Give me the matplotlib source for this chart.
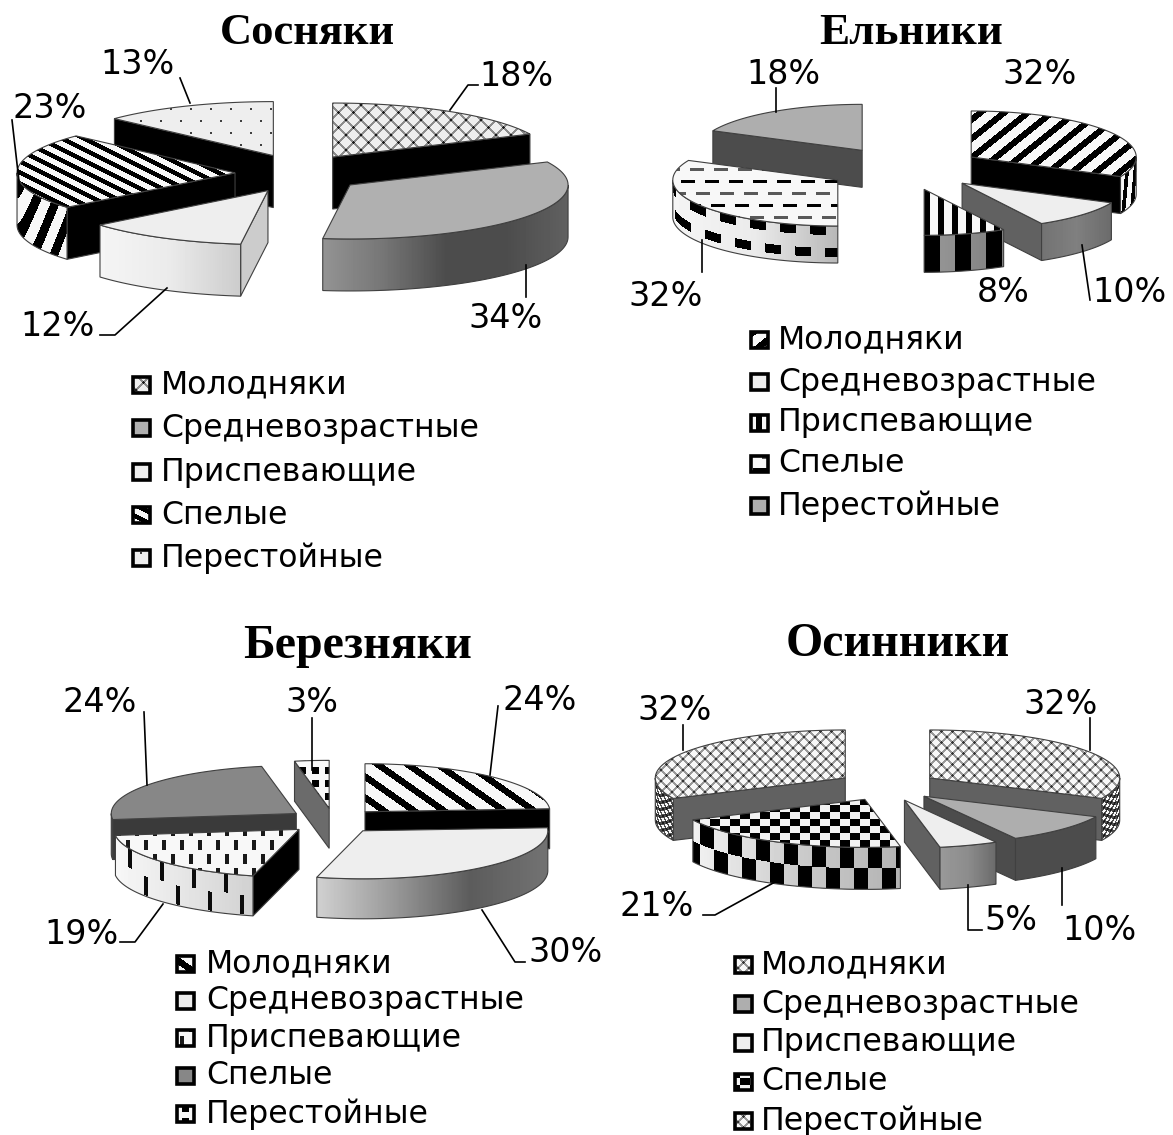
#!/usr/bin/env python3
# -*- coding: utf-8 -*-
import numpy as np
import matplotlib
matplotlib.use("Agg")
import matplotlib.pyplot as plt
from matplotlib.patches import Polygon

W, H = 1173, 1135

categories = ["Молодняки", "Средневозрастные", "Приспевающие", "Спелые", "Перестойные"]

sosnyaki = [18, 34, 12, 23, 13]
elniki = [32, 10, 8, 32, 18]
bereznyaki = [24, 30, 19, 24, 3]
osinniki = [32, 10, 5, 21, 32]


# --- fill patterns, grey level from pixel position ---
def flat(v):
    return lambda X, Y: np.full(X.shape, float(v))


def ramp(*stops):
    def f(X, Y):
        u = (X - X.min()) / max(X.max() - X.min(), 1)
        return np.interp(u, np.linspace(0, 1, len(stops)), stops)
    return f


def over(base, mask, ink=0.0):
    def f(X, Y):
        g = base(X, Y).copy()
        g[mask(X, Y)] = ink
        return g
    return f


def stripes(base, period, width, sx, sy, ink=0.0, phase=0):
    return over(base, lambda X, Y: ((sx * X + sy * Y + phase) % period) < width, ink)


def dots(base, px, py, wx, wy, ink=0.0, shift=True):
    def mask(X, Y):
        row = np.floor(Y / py)
        off = (row % 2) * px / 2 if shift else 0
        return ((X + off) % px < wx) & (Y % py < wy)
    return over(base, mask, ink)


def lattice(base, period, width, ink, knot=None):
    def f(X, Y):
        g = base(X, Y).copy()
        a = ((X + Y) % period) < width
        b = ((X - Y) % period) < width
        g[a | b] = ink
        if knot is not None:
            g[a & b] = knot
        return g
    return f


def checker(base, px, py):
    return over(base, lambda X, Y: (np.floor(X / px) + np.floor(Y / py)) % 2 == 0)


# dashed rows for the Спелые slice of Ельники
def dash_rows(base):
    def f(X, Y):
        g = base(X, Y).copy()
        rows = np.floor(Y / 12)
        on = ((X + rows * 9) % 24 < 14) & (Y % 12 < 3)
        g[on & (rows % 2 == 0)] = 0.35
        g[on & (rows % 2 == 1)] = 0.0
        return g
    return f


white = flat(0.97)
light = flat(0.93)
black = flat(0.0)

# one entry per slice: top, outer wall, cut face
sosn_style = [
    (lattice(light, 15, 3, 0.55, 0.1), black, black),
    (flat(0.69), ramp(0.58, 0.46, 0.30, 0.30, 0.38), flat(0.4)),
    (light, ramp(0.96, 0.92, 0.80), flat(0.8)),
    (stripes(white, 11, 5, 0.5, -1), stripes(white, 17, 8, 1, 0.35), black),
    (dots(light, 20, 12, 2, 2, 0.25), black, black),
]
eln_style = [
    (stripes(white, 19, 8, 0.8, 1), stripes(white, 9, 4, 1, 0.1), black),
    (light, ramp(0.45, 0.5, 0.42), flat(0.38)),
    (stripes(white, 14, 6, 1, 0), stripes(ramp(0.6, 0.5), 31, 16, 1, 0, phase=6), black),
    (dash_rows(white), dots(ramp(0.96, 0.92, 0.72), 30, 22, 16, 9, 0.0), flat(0.5)),
    (flat(0.68), flat(0.3), flat(0.3)),
]
ber_style = [
    (stripes(white, 21, 8, 0.7, -1), black, black),
    (light, ramp(0.82, 0.6, 0.36, 0.45), flat(0.4)),
    (dots(white, 18, 14, 4, 10, 0.1), dots(ramp(0.97, 0.9, 0.82), 32, 20, 4, 19, 0.05), black),
    (flat(0.53), flat(0.3), flat(0.23)),
    (dots(white, 13, 13, 7, 7, 0.0, shift=False), flat(0.4), flat(0.42)),
]
dense = lattice(white, 11, 3, 0.6, 0.2)
dense_wall = lattice(white, 7, 3, 0.3, 0.1)
osin_style = [
    (dense, dense_wall, flat(0.38)),
    (flat(0.68), flat(0.3), flat(0.3)),
    (light, ramp(0.6, 0.55, 0.42), flat(0.38)),
    (checker(flat(0.95), 10, 7), checker(ramp(0.95, 0.8, 0.7), 14, 21), black),
    (dense, dense_wall, flat(0.38)),
]

# layout of each pie: centre, explosion, radii, wall height (pixels)
pies = [
    dict(name="Сосняки", values=sosnyaki, style=sosn_style, cx=298.6, cy=173.5, ex=63.6, ey=19.5,
         rx=218, ry=54, h=52, title=(307, 33), title_size=32,
         labels=[(516, 77), (506, 318), (58, 327), (50, 109), (137, 65)],
         legend=(133, 161, [385, 428, 472, 515, 558]),
         leaders=[[(450, 110), (468, 85), (478, 85)], [(526, 265), (526, 297)],
                  [(167, 288), (115, 335), (100, 335)], [(20, 190), (12, 120)], [(190, 103), (180, 78)]]),
    dict(name="Ельники", values=elniki, style=eln_style, cx=904.5, cy=168.5, ex=79, ey=21.5,
         rx=165, ry=46, h=37, title=(911, 33), title_size=32.5,
         labels=[(1040, 75), (1129, 293), (1003, 292), (666, 297), (783, 74)],
         legend=(751, 778, [340, 382, 423, 464, 506]),
         leaders=[[(1082, 245), (1090, 300)], [(702, 240), (702, 272)], [(776, 112), (776, 88)]]),
    dict(name="Березняки", values=bereznyaki, style=ber_style, cx=333.5, cy=821, ex=46, ey=12.7,
         rx=185, ry=48, h=40, title=(358, 646), title_size=34.5,
         labels=[(540, 700), (566, 952), (82, 935), (100, 702), (312, 702)],
         legend=(177, 206, [964, 1001, 1038, 1076, 1114]),
         leaders=[[(490, 775), (498, 706)], [(482, 910), (515, 962), (525, 962)],
                  [(163, 904), (135, 942), (120, 942)], [(147, 785), (144, 712)], [(312, 770), (312, 718)]]),
    dict(name="Осинники", values=osinniki, style=osin_style, cx=887.5, cy=786, ex=50, ey=15,
         rx=190, ry=48, h=42, title=(898, 644), title_size=34.5,
         labels=[(1061, 705), (1100, 930), (1011, 921), (657, 907), (675, 710)],
         legend=(735, 761, [965, 1004, 1043, 1082, 1121]),
         leaders=[[(1090, 750), (1090, 718)], [(1062, 868), (1062, 905)], [(968, 885), (968, 930), (982, 930)],
                  [(775, 882), (715, 915), (703, 915)], [(683, 750), (683, 725)]]),
]

fig = plt.figure(figsize=(W / 100, H / 100), dpi=100, facecolor="white")
ax = fig.add_axes([0, 0, 1, 1])
ax.set_xlim(0, W)
ax.set_ylim(H, 0)
ax.axis("off")
ax.autoscale(False)

z = [10]


def paint(pts, shader, edge=(0.25, 0.25, 0.25), lw=0.8, arc=None):
    pts = np.asarray(pts, dtype=float)
    x0, y0 = np.floor(pts.min(axis=0)).astype(int)
    x1, y1 = np.ceil(pts.max(axis=0)).astype(int)
    x1, y1 = max(x1, x0 + 1), max(y1, y0 + 1)
    X, Y = np.meshgrid(np.arange(x0, x1) + 0.5, np.arange(y0, y1) + 0.5)
    if arc is not None:
        # wall patterns run along the rim, not along the pixel rows
        a0, b0, rx, ry = arc
        Y = Y - (b0 + ry * np.sqrt(np.clip(1 - ((X - a0) / rx) ** 2, 0, 1)))
    z[0] += 1
    im = ax.imshow(shader(X, Y), cmap="gray", vmin=0, vmax=1, extent=(x0, x1, y1, y0),
                   interpolation="nearest", aspect="auto", zorder=z[0])
    patch = Polygon(pts, closed=True, facecolor="none", edgecolor=edge, linewidth=lw, zorder=z[0])
    ax.add_patch(patch)
    im.set_clip_path(patch)


def draw_slice(p, t1, t2, style):
    top_fill, wall_fill, cut_fill = style
    mid = np.radians((t1 + t2) / 2)
    ax0 = p["cx"] + p["ex"] * np.sin(mid)
    ay0 = p["cy"] - p["ey"] * np.cos(mid)
    rx, ry, h = p["rx"], p["ry"], p["h"]

    def rim(t):
        t = np.radians(t)
        return np.column_stack([ax0 + rx * np.sin(t), ay0 - ry * np.cos(t)])

    down = np.array([0, h])
    apex = np.array([[ax0, ay0]])
    # cut faces turned towards the viewer
    for t, visible in ((t1, np.sin(np.radians(t1)) < -1e-6), (t2, np.sin(np.radians(t2)) > 1e-6)):
        if visible:
            e = rim(np.array([t]))
            paint(np.vstack([apex, e, e + down, apex + down]), cut_fill)
    # outer wall on the near half
    a, b = max(t1, 90), min(t2, 270)
    if b > a:
        arc = rim(np.linspace(a, b, 80))
        paint(np.vstack([arc, (arc + down)[::-1]]), wall_fill, arc=(ax0, ay0, rx, ry))
    paint(np.vstack([apex, rim(np.linspace(t1, t2, 120))]), top_fill)


for p in pies:
    vals = np.array(p["values"], dtype=float)
    edges = np.concatenate([[0], np.cumsum(vals)]) / vals.sum() * 360
    mids = (edges[:-1] + edges[1:]) / 2
    # far slices first
    for i in np.argsort(-np.cos(np.radians(mids))):
        draw_slice(p, edges[i], edges[i + 1], p["style"][i])

    for pts in p["leaders"]:
        xs, ys = zip(*pts)
        ax.plot(xs, ys, color="black", lw=1.2, zorder=500)

    for v, (x, y) in zip(p["values"], p["labels"]):
        ax.text(x, y, f"{v}%", fontsize=24, family="DejaVu Sans", ha="center", va="center", zorder=510)

    ax.text(p["title"][0], p["title"][1], p["name"], fontsize=p["title_size"], family="Liberation Serif",
            weight="bold", ha="center", va="center", zorder=510)

    mx, tx, ys = p["legend"]
    for name, y, style in zip(categories, ys, p["style"]):
        paint([(mx, y - 8), (mx + 17, y - 8), (mx + 17, y + 8), (mx, y + 8)], style[0], edge="black", lw=2.6)
        ax.text(tx, y, name, fontsize=22.7, family="DejaVu Sans", ha="left", va="center", zorder=510)

fig.savefig("out.png", dpi=100)
